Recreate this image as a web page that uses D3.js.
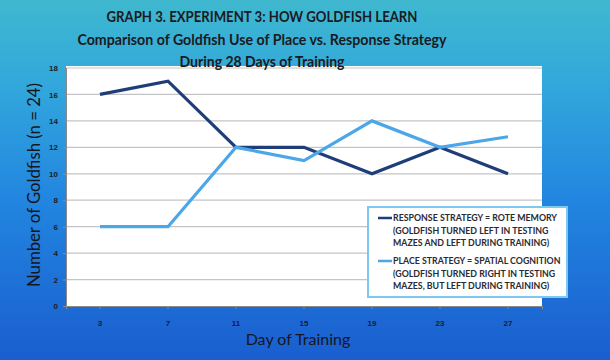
<!DOCTYPE html>
<html>
<head>
<meta charset="utf-8">
<script src="https://cdn.jsdelivr.net/npm/d3@7"></script>
<style>
  body { margin: 0; }
  svg { display: block; font-family: Lato, "Open Sans", sans-serif; }
</style>
</head>
<body>
<script>
var days = ["3", "7", "11", "15", "19", "23", "27"];
var responseStrategy = [16, 17, 12, 12, 10, 12, 10];
var placeStrategy = [6, 6, 12, 11, 14, 12, 12.8];
var yTicks = [0, 2, 4, 6, 8, 10, 12, 14, 16, 18];
var titleLines = ["GRAPH 3. EXPERIMENT 3: HOW GOLDFISH LEARN",
                  "Comparison of Goldfish Use of Place vs. Response Strategy",
                  "During 28 Days of Training"];
var titleWidths = [311, 369, 165];
var legendItems = [
  {name: ["RESPONSE STRATEGY = ROTE MEMORY", "(GOLDFISH TURNED LEFT IN TESTING", "MAZES AND LEFT DURING TRAINING)"], color: "#1f3d78"},
  {name: ["PLACE STRATEGY = SPATIAL COGNITION", "(GOLDFISH TURNED RIGHT IN TESTING", "MAZES, BUT LEFT DURING TRAINING)"], color: "#4ba6ea"}
];

var width = 610, height = 360;
var plot = {left: 66, right: 542, top: 68, bottom: 306};

var svg = d3.select("body").append("svg")
    .attr("width", width)
    .attr("height", height);

// background gradient
var grad = svg.append("defs").append("linearGradient")
    .attr("id", "bg").attr("x1", 0).attr("y1", 0).attr("x2", 0).attr("y2", 1);
grad.append("stop").attr("offset", "0%").attr("stop-color", "#3fb8cf");
grad.append("stop").attr("offset", "25%").attr("stop-color", "#31a6dc");
grad.append("stop").attr("offset", "55%").attr("stop-color", "#2286e0");
grad.append("stop").attr("offset", "100%").attr("stop-color", "#1a5ecf");
svg.append("rect").attr("width", width).attr("height", height).attr("fill", "url(#bg)");

// plot area
svg.append("rect")
    .attr("x", plot.left).attr("y", plot.top - 2)
    .attr("width", plot.right - plot.left).attr("height", plot.bottom - plot.top + 3)
    .attr("fill", "#ffffff");

var x = d3.scaleBand().domain(days).range([plot.left, plot.right]);
var y = d3.scaleLinear().domain([0, 18]).range([plot.bottom, plot.top]);

// gridlines
svg.append("g").selectAll("line")
    .data(yTicks.filter(function(d){ return d > 0; }))
    .enter().append("line")
    .attr("x1", plot.left).attr("x2", plot.right)
    .attr("y1", function(d){ return y(d); })
    .attr("y2", function(d){ return y(d); })
    .attr("stroke", "#c4c4c4")
    .attr("stroke-width", 1.2);

// axes
var yAxis = svg.append("g")
    .attr("transform", "translate(" + plot.left + ",0)")
    .call(d3.axisLeft(y).tickValues(yTicks).tickSize(3).tickPadding(5));
var xAxis = svg.append("g")
    .attr("transform", "translate(0," + plot.bottom + ")")
    .call(d3.axisBottom(x).tickSize(3).tickPadding(11));
[xAxis, yAxis].forEach(function(a){
  a.select(".domain").attr("stroke", "#8a8a8a");
  a.selectAll(".tick line").attr("stroke", "#8a8a8a");
  a.selectAll("text").attr("font-size", 8).attr("font-weight", "bold").attr("fill", "#1c1c28");
});

// lines
var line = d3.line()
    .x(function(d, i){ return x(days[i]) + x.bandwidth() / 2; })
    .y(function(d){ return y(d); });
[responseStrategy, placeStrategy].forEach(function(series, k){
  svg.append("path")
     .datum(series)
     .attr("d", line)
     .attr("fill", "none")
     .attr("stroke", legendItems[k].color)
     .attr("stroke-width", 3.2)
     .attr("stroke-linejoin", "miter");
});

// titles
svg.append("g").selectAll("text")
    .data(titleLines)
    .enter().append("text")
    .attr("x", 262)
    .attr("y", function(d, i){ return 22 + i * 22.5; })
    .attr("text-anchor", "middle")
    .attr("font-size", 14.5)
    .attr("font-weight", "bold")
    .attr("fill", "#1a1a22")
    .attr("textLength", function(d, i){ return titleWidths[i]; })
    .attr("lengthAdjust", "spacingAndGlyphs")
    .text(function(d){ return d; });

svg.append("text")
    .attr("transform", "translate(40,185) rotate(-90)")
    .attr("text-anchor", "middle")
    .attr("font-size", 18)
    .attr("fill", "#161620")
    .attr("textLength", 204)
    .attr("lengthAdjust", "spacingAndGlyphs")
    .text("Number of Goldfish (n = 24)");

svg.append("text")
    .attr("x", 298).attr("y", 345)
    .attr("text-anchor", "middle")
    .attr("font-size", 16)
    .attr("fill", "#161620")
    .text("Day of Training");

// legend
var lg = svg.append("g");
lg.append("rect")
  .attr("x", 368).attr("y", 207).attr("width", 199).attr("height", 90)
  .attr("fill", "#ffffff").attr("stroke", "#7cc8f0").attr("stroke-width", 2);
legendItems.forEach(function(item, k){
  var y0 = 218 + k * 43;
  lg.append("line")
    .attr("x1", 378).attr("x2", 392).attr("y1", y0).attr("y2", y0)
    .attr("stroke", item.color).attr("stroke-width", 2.5);
  item.name.forEach(function(t, j){
    lg.append("text")
      .attr("x", 393).attr("y", y0 + j * 12.5)
      .attr("dy", "0.35em")
      .attr("font-size", 8.8)
      .attr("font-weight", "bold")
      .attr("fill", "#2a2a33")
      .text(t);
  });
});
</script>
</body>
</html>
